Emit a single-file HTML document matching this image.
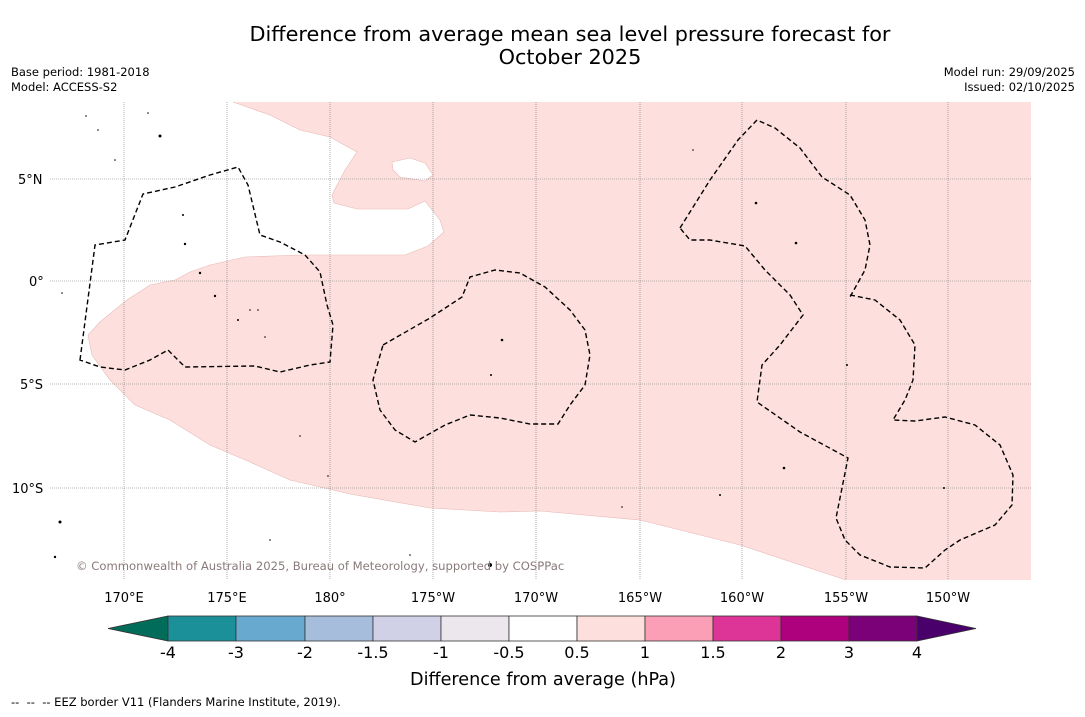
<!DOCTYPE html>
<html><head><meta charset="utf-8"><style>
body{margin:0;background:#fff;width:1085px;height:713px;overflow:hidden;font-family:"DejaVu Sans","Liberation Sans",sans-serif}
svg text{font-family:"DejaVu Sans","Liberation Sans",sans-serif}
</style></head><body>
<svg width="1085" height="713">
<text x="570" y="41" font-size="20.8" text-anchor="middle">Difference from average mean sea level pressure forecast for</text>
<text x="570" y="64" font-size="20.8" text-anchor="middle">October 2025</text>
<g font-size="11.5"><text x="11" y="76">Base period: 1981-2018</text><text x="11" y="91">Model: ACCESS-S2</text></g>
<g font-size="11.5" text-anchor="end"><text x="1075" y="76">Model run: 29/09/2025</text><text x="1075" y="91">Issued: 02/10/2025</text></g>
<g>
<path fill="#fde0de" fill-rule="evenodd" d="M233,102 L270,115 L300,130 L330,137 L357,152 L345,170 L332,195 L334,203 L357,209 L408,209 L425,201 L440,220 L444,232 L428,246 L405,255 L300,255 L245,257 L210,265 L190,272 L175,280 L150,285 L127,300 L100,322 L88,335 L92,355 L110,380 L135,405 L170,420 L210,445 L250,462 L290,480 L350,494 L430,508 L500,512 L540,511 L640,520 L740,545 L846,580 L1031,580 L1031,102 Z M392,162 L410,158 L425,163 L433,175 L425,181 L400,177 L393,170 Z"/>
<path d="M233,102 L270,115 L300,130 L330,137 L357,152 L345,170 L332,195 L334,203 L357,209 L408,209 L425,201 L440,220 L444,232 L428,246 L405,255 L300,255 L245,257 L210,265 L190,272 L175,280 L150,285 L127,300 L100,322 L88,335 L92,355 L110,380 L135,405 L170,420 L210,445 L250,462 L290,480 L350,494 L430,508 L500,512 L540,511 L640,520 L740,545 L846,580 M392,162 L410,158 L425,163 L433,175 L425,181 L400,177 L393,170 Z" fill="none" stroke="#e8b8b5" stroke-width="0.6"/>
<g stroke="#777" stroke-width="0.6" stroke-dasharray="1,1">
<line x1="124" y1="102" x2="124" y2="580"/><line x1="227" y1="102" x2="227" y2="580"/><line x1="330" y1="102" x2="330" y2="580"/><line x1="433" y1="102" x2="433" y2="580"/><line x1="536" y1="102" x2="536" y2="580"/><line x1="640" y1="102" x2="640" y2="580"/><line x1="742" y1="102" x2="742" y2="580"/><line x1="846" y1="102" x2="846" y2="580"/><line x1="948" y1="102" x2="948" y2="580"/>
<line x1="50" y1="179" x2="1031" y2="179"/><line x1="50" y1="281" x2="1031" y2="281"/><line x1="50" y1="384" x2="1031" y2="384"/><line x1="50" y1="488" x2="1031" y2="488"/>
</g>
<g fill="none" stroke="#000" stroke-width="1.4" stroke-dasharray="5,3">
<path d="M80,360 L95,245 L125,240 L143,194 L175,187 L210,175 L238,167 L248,185 L260,235 L280,242 L305,255 L320,272 L327,305 L333,325 L330,362 L310,365 L280,372 L255,366 L185,367 L168,350 L150,360 L125,370 L100,367 Z"/>
<path d="M383,345 L430,318 L462,297 L470,277 L495,270 L520,273 L545,287 L570,310 L585,330 L590,355 L585,385 L570,405 L558,424 L530,424 L500,418 L470,415 L445,425 L415,442 L395,430 L380,410 L373,380 Z"/>
<path d="M680,228 L710,180 L738,140 L757,120 L775,128 L800,148 L822,177 L850,195 L865,220 L870,245 L865,270 L850,297"/>
<path d="M850,295 L875,300 L900,320 L915,345 L913,380 L905,400 L893,420 L915,421 L945,417 L975,425 L1000,445 L1013,475 L1012,505 L995,525 L960,540 L945,550 L925,568 L890,567 L860,555 L845,540 L836,518 L848,458 L800,432 L757,402 L762,365 L780,345 L803,315 L790,295 L765,270 L745,246 L710,240 L690,240 L680,228"/>
</g>
<g fill="#000">
<circle cx="160" cy="136" r="1.5"/><circle cx="185" cy="244" r="1.2"/><circle cx="215" cy="296" r="1.2"/><circle cx="238" cy="320" r="1"/><circle cx="502" cy="340" r="1.3"/><circle cx="491" cy="375" r="1"/><circle cx="756" cy="203" r="1.3"/><circle cx="796" cy="243" r="1.3"/><circle cx="784" cy="468" r="1.3"/><circle cx="720" cy="495" r="1"/><circle cx="490" cy="565" r="2"/><circle cx="60" cy="522" r="1.5"/><circle cx="55" cy="557" r="1.2"/><circle cx="200" cy="273" r="1.2"/><circle cx="944" cy="488" r="1"/><circle cx="847" cy="365" r="1"/>
<circle cx="86" cy="116" r="0.8"/><circle cx="98" cy="130" r="0.8"/><circle cx="115" cy="160" r="0.8"/><circle cx="148" cy="113" r="0.8"/><circle cx="183" cy="215" r="1"/><circle cx="250" cy="310" r="0.8"/><circle cx="258" cy="310" r="0.8"/><circle cx="265" cy="337" r="0.8"/><circle cx="300" cy="436" r="0.8"/><circle cx="328" cy="476" r="0.8"/><circle cx="62" cy="293" r="0.8"/><circle cx="693" cy="150" r="0.8"/><circle cx="622" cy="507" r="0.8"/><circle cx="410" cy="555" r="0.8"/><circle cx="270" cy="540" r="0.8"/>
</g>
<text x="76" y="570" font-size="11.6" fill="#8a7a7a">© Commonwealth of Australia 2025, Bureau of Meteorology, supported by COSPPac</text>
</g>
<g font-size="13"><text x="18" y="184">5°N</text><text x="29" y="286">0°</text><text x="20" y="389">5°S</text><text x="12" y="493">10°S</text></g>
<g font-size="13" text-anchor="middle"><text x="124" y="602">170°E</text><text x="227" y="602">175°E</text><text x="330" y="602">180°</text><text x="433" y="602">175°W</text><text x="536" y="602">170°W</text><text x="640" y="602">165°W</text><text x="742" y="602">160°W</text><text x="846" y="602">155°W</text><text x="948" y="602">150°W</text></g>
<g stroke="#333" stroke-width="0.8">
<polygon points="108,628.5 168,616 168,641" fill="#016c59"/>
<rect x="168" y="616" width="68" height="25" fill="#1c9099"/>
<rect x="236" y="616" width="69" height="25" fill="#67a9cf"/>
<rect x="305" y="616" width="68" height="25" fill="#a6bddb"/>
<rect x="373" y="616" width="68" height="25" fill="#d0d1e6"/>
<rect x="441" y="616" width="68" height="25" fill="#ece7ec"/>
<rect x="509" y="616" width="68" height="25" fill="#ffffff"/>
<rect x="577" y="616" width="68" height="25" fill="#fde0dd"/>
<rect x="645" y="616" width="68" height="25" fill="#fa9fb5"/>
<rect x="713" y="616" width="68" height="25" fill="#dd3497"/>
<rect x="781" y="616" width="68" height="25" fill="#ae017e"/>
<rect x="849" y="616" width="68" height="25" fill="#7a0177"/>
<polygon points="917,616 976,628.5 917,641" fill="#49006a"/>
</g>
<g font-size="16" text-anchor="middle"><text x="168" y="658">-4</text><text x="236" y="658">-3</text><text x="305" y="658">-2</text><text x="373" y="658">-1.5</text><text x="441" y="658">-1</text><text x="509" y="658">-0.5</text><text x="577" y="658">0.5</text><text x="645" y="658">1</text><text x="713" y="658">1.5</text><text x="781" y="658">2</text><text x="849" y="658">3</text><text x="917" y="658">4</text></g>
<text x="543" y="685" font-size="17.6" text-anchor="middle">Difference from average (hPa)</text>
<text x="11" y="706" font-size="11.5">--&#160;&#160;--&#160;&#160;-- EEZ border V11 (Flanders Marine Institute, 2019).</text>
</svg>
</body></html>
